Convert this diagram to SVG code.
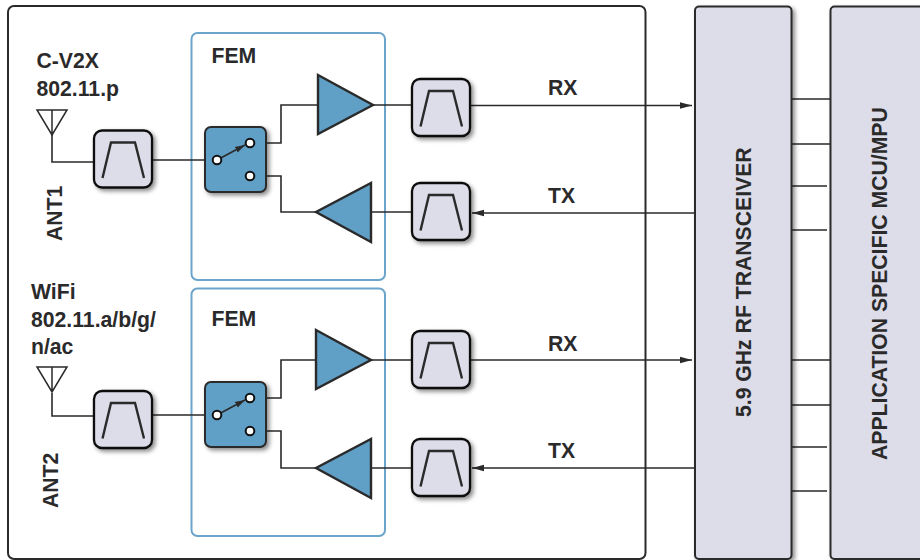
<svg xmlns="http://www.w3.org/2000/svg" width="920" height="560" viewBox="0 0 920 560">
<style>
.t{font-family:"Liberation Sans",Arial,sans-serif;font-weight:700;font-size:21.200px;fill:#2b2a2b}
.panel{fill:#fff;stroke:#2b2a2b;stroke-width:2}
.fem{fill:#fff;stroke:#6ba5cb;stroke-width:2}
.block{fill:#dcdde8;stroke:#2b2a2b;stroke-width:2;filter:url(#sh)}
.filter{fill:#dcdde8;stroke:#111;stroke-width:2.300;filter:url(#sh)}
.trap{fill:none;stroke:#2b2a2b;stroke-width:2.400}
.sw{fill:#609fc6;stroke:#2b2a2b;stroke-width:2;filter:url(#sh)}
.amp{fill:#609fc6;stroke:#2b2a2b;stroke-width:2.400;stroke-linejoin:miter}
.pin{fill:#fff;stroke:#111;stroke-width:2}
.w{fill:none;stroke:#2b2a2b;stroke-width:1.600}
.ant{fill:none;stroke:#2b2a2b;stroke-width:1.500}
</style>
<defs>
<filter id="sh" x="-20%" y="-20%" width="150%" height="150%"><feDropShadow dx="2.500" dy="2.500" stdDeviation="2" flood-color="#000" flood-opacity="0.45"/></filter>
<marker id="ah" markerUnits="userSpaceOnUse" markerWidth="13" markerHeight="8" refX="12" refY="4" orient="auto"><path d="M0,0.8L12,4L0,7.200z" fill="#2b2a2b"/></marker>
<marker id="as" markerUnits="userSpaceOnUse" markerWidth="11" markerHeight="8" refX="10" refY="4" orient="auto"><path d="M0,0.800L10,4L0,7.200z" fill="#2b2a2b"/></marker>
<g id="flt"><rect x="0" y="0" width="58" height="57" rx="8" class="filter"/><path d="M8.500,47.500L17,12H41L50,47.500" class="trap"/></g>
</defs>
<rect width="920" height="560" fill="#fff"/>
<g id="system-panel"><rect x="8" y="6" width="637.500" height="553" rx="6" class="panel"/></g>
<g id="fem1"><rect x="191.500" y="33" width="193.500" height="247" rx="6" class="fem"/><text class="t" x="211.500" y="63">FEM</text></g>
<g id="fem2"><rect x="191.500" y="288.500" width="193.500" height="247.500" rx="6" class="fem"/><text class="t" x="211.500" y="326">FEM</text></g>
<g id="connectors">
<path class="w" d="M52,135V162H94M152,160H217M250,143H281V105H318M250,176H281V212H316M373,105H412"/>
<path class="w" d="M470,105.500H692" marker-end="url(#ah)"/>
<path class="w" d="M695,213H472" marker-end="url(#ah)"/>
<path class="w" d="M371,212H412"/>
<path class="w" d="M52,393V416H94M152,415H217M250,398H281V360H316M250,431H281V468H316M371,360H412M371,468H412"/>
<path class="w" d="M470,360H692" marker-end="url(#ah)"/>
<path class="w" d="M695,468H472" marker-end="url(#ah)"/>
<path class="w" d="M791,99H830M791,144H830M791,186H827M791,230H827M791,360H830M791,405H830M791,447H827M791,491H827"/>
</g>
<g id="ant1"><path class="ant" d="M37,110H67L52,135ZM52,110V135"/><text class="t" transform="translate(62,241) rotate(-90)">ANT1</text><text class="t" x="36.500" y="68">C-V2X</text><text class="t" x="36.500" y="96">802.11.p</text></g>
<g id="ant2"><path class="ant" d="M37,367H67L52,392ZM52,367V392"/><text class="t" transform="translate(58,508) rotate(-90)">ANT2</text><text class="t" x="31" y="299">WiFi</text><text class="t" x="31" y="327">802.11.a/b/g/</text><text class="t" x="31" y="354">n/ac</text></g>
<use id="filter-a1" href="#flt" x="94" y="130.500"/>
<use id="filter-a2" href="#flt" x="94" y="391"/>
<use id="filter-rx1" href="#flt" x="412" y="79"/>
<use id="filter-tx1" href="#flt" x="412" y="183"/>
<use id="filter-rx2" href="#flt" x="412" y="331"/>
<use id="filter-tx2" href="#flt" x="412" y="439"/>
<g id="switch1"><rect x="205" y="127" width="61" height="65" rx="6" class="sw"/><path class="w" d="M217,160L245,145" marker-end="url(#as)"/><circle class="pin" cx="217" cy="160" r="4.300"/><circle class="pin" cx="250" cy="143" r="4.300"/><circle class="pin" cx="250" cy="176" r="4.300"/></g>
<g id="switch2"><rect x="205" y="382" width="61" height="65" rx="6" class="sw"/><path class="w" d="M217,415L245,400" marker-end="url(#as)"/><circle class="pin" cx="217" cy="415" r="4.300"/><circle class="pin" cx="250" cy="398" r="4.300"/><circle class="pin" cx="250" cy="431" r="4.300"/></g>
<g id="amp-rx1"><path class="amp" d="M318,75L373,105L318,134Z"/></g>
<g id="amp-tx1"><path class="amp" d="M371,183V242L316,212Z"/></g>
<g id="amp-rx2"><path class="amp" d="M316,330L371,360L316,389Z"/></g>
<g id="amp-tx2"><path class="amp" d="M371,439V498L316,468Z"/></g>
<g id="labels"><text class="t" x="548" y="95">RX</text><text class="t" x="548" y="203">TX</text><text class="t" x="548" y="351">RX</text><text class="t" x="548" y="458">TX</text></g>
<g id="transceiver"><rect x="695" y="6.500" width="96.500" height="552.500" rx="4" class="block"/><text class="t" transform="translate(751,417) rotate(-90)">5.9 GHz RF TRANSCEIVER</text></g>
<g id="mcu"><rect x="830.500" y="6.500" width="100" height="552.500" rx="4" class="block"/><text class="t" transform="translate(887,460) rotate(-90)">APPLICATION SPECIFIC MCU/MPU</text></g>
</svg>
